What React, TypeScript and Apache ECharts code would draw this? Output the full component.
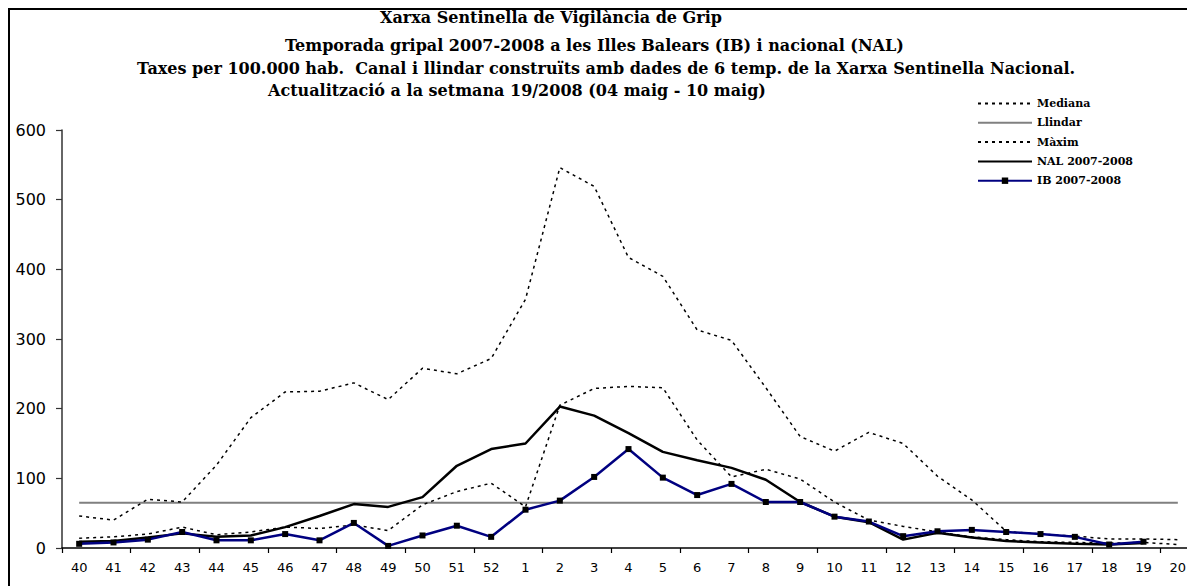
import React, { useEffect, useRef } from "react";
import * as echarts from "echarts";

const weeks = [
  "40", "41", "42", "43", "44", "45", "46", "47", "48", "49", "50", "51", "52",
  "1", "2", "3", "4", "5", "6", "7", "8", "9", "10", "11", "12", "13", "14", "15",
  "16", "17", "18", "19", "20",
];

const mediana = [
  14, 16, 20, 30, 19, 23, 30, 28, 33, 25, 62, 81, 93,
  59, 205, 229, 232, 230, 155, 102, 113, 99, 66, 40, 31, 23, 16, 12,
  9, 8, 7, 8, 5,
];

const llindarValue = 65;

const maxim = [
  46, 40, 70, 66, 119, 187, 224, 225, 237, 213, 258, 250, 272,
  357, 546, 519, 417, 390, 313, 298, 230, 160, 139, 166, 150, 103, 69, 24,
  20, 17, 13, 13, 12,
];

const nal = [
  9, 10, 15, 21, 16, 18, 30, 46, 63, 59, 73, 118, 142,
  150, 203, 190, 165, 138, 126, 115, 98, 66, 45, 37, 12, 22, 15, 10,
  8, 6, 5, 7, null,
];

const ib = [
  6, 8, 12, 23, 11, 11, 20, 11, 36, 3, 18, 32, 16,
  55, 68, 102, 142, 101, 76, 92, 66, 66, 45, 38, 17, 24, 26, 23,
  20, 16, 5, 9, null,
];

const yTicks = [0, 100, 200, 300, 400, 500, 600];

const titleLines = [
  "Xarxa Sentinella de Vigilància de Grip",
  "Temporada gripal 2007-2008 a les Illes Balears (IB) i nacional (NAL)",
  "Taxes per 100.000 hab.  Canal i llindar construïts amb dades de 6 temp. de la Xarxa Sentinella Nacional.",
  "Actualització a la setmana 19/2008 (04 maig - 10 maig)",
];

const legendNames = ["Mediana", "Llindar", "Màxim", "NAL 2007-2008", "IB 2007-2008"];

const W = 1187;
const H = 578;

export default function App() {
  const ref = useRef<HTMLDivElement>(null);

  useEffect(() => {
    if (!ref.current) return;
    const chart = echarts.init(ref.current, undefined, { renderer: "svg" });
    const serif = "'DejaVu Serif', 'Liberation Serif', serif";
    const sans = "'DejaVu Sans', Verdana, sans-serif";
    const titlePos = [
      { x: 372, y: 9 },
      { x: 277, y: 37 },
      { x: 129, y: 60 },
      { x: 260, y: 82 },
    ];
    const option: any = {
      animation: false,
      backgroundColor: "#ffffff",
      grid: { left: 54, top: 122, bottom: 38, right: -12, containLabel: false },
      graphic: [
        { type: "line", shape: { x1: 1, y1: 0, x2: 1, y2: H }, style: { stroke: "#000", lineWidth: 2 } },
        { type: "line", shape: { x1: 0, y1: 1, x2: W, y2: 1 }, style: { stroke: "#000", lineWidth: 2 } },
        ...titleLines.map((t, i) => ({
          type: "text",
          x: titlePos[i].x,
          y: titlePos[i].y,
          style: {
            text: t,
            fill: "#000",
            font: `bold 16px ${serif}`,
            align: "left",
            verticalAlign: "middle",
          },
        })),
      ],
      legend: {
        orient: "vertical",
        left: 969,
        top: 90,
        padding: 0,
        itemWidth: 54,
        itemHeight: 8,
        itemGap: 8.3,
        selectedMode: false,
        textStyle: { fontFamily: serif, fontWeight: "bold", fontSize: 11, color: "#000" },
        data: legendNames.map((n, i) =>
          i < 4 ? { name: n, itemStyle: { opacity: 0 } } : { name: n }
        ),
      },
      xAxis: {
        type: "category",
        data: weeks,
        boundaryGap: true,
        axisLine: { lineStyle: { color: "#000", width: 1.5 } },
        axisTick: { show: true, interval: 1, length: 5, lineStyle: { color: "#000", width: 1.2 } },
        axisLabel: { interval: 0, margin: 13, fontSize: 13, fontFamily: sans, color: "#000" },
        splitLine: { show: false },
      },
      yAxis: {
        type: "value",
        min: yTicks[0],
        max: yTicks[yTicks.length - 1],
        interval: 100,
        axisLine: { show: true, lineStyle: { color: "#333", width: 1.5 } },
        axisTick: { show: true, length: 6, lineStyle: { color: "#333", width: 1.2 } },
        axisLabel: { margin: 16, fontSize: 16, fontFamily: sans, color: "#000" },
        splitLine: { show: false },
      },
      series: [
        {
          name: legendNames[0],
          type: "line",
          data: mediana,
          symbol: "none",
          lineStyle: { color: "#000", width: 1.5, type: [3, 4] },
          itemStyle: { color: "#000" },
          z: 2,
        },
        {
          name: legendNames[1],
          type: "line",
          data: weeks.map(() => llindarValue),
          symbol: "none",
          lineStyle: { color: "#808080", width: 2 },
          itemStyle: { color: "#808080" },
          z: 1,
        },
        {
          name: legendNames[2],
          type: "line",
          data: maxim,
          symbol: "none",
          lineStyle: { color: "#000", width: 1.5, type: [3, 4] },
          itemStyle: { color: "#000" },
          z: 2,
        },
        {
          name: legendNames[3],
          type: "line",
          data: nal,
          symbol: "none",
          lineStyle: { color: "#000", width: 2.5 },
          itemStyle: { color: "#000" },
          z: 3,
        },
        {
          name: legendNames[4],
          type: "line",
          data: ib,
          symbol: "rect",
          symbolSize: 6,
          showSymbol: true,
          lineStyle: { color: "#000080", width: 2.5 },
          itemStyle: { color: "#000" },
          z: 4,
        },
      ],
    };
    chart.setOption(option);
    return () => chart.dispose();
  }, []);

  return <div ref={ref} style={{ width: W, height: H }} />;
}
